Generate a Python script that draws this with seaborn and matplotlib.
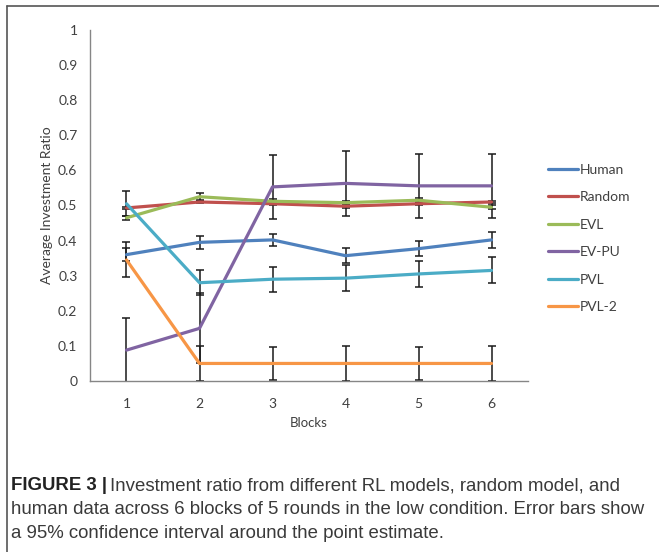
import numpy as np
import pandas as pd
import seaborn as sns
import matplotlib
matplotlib.use("Agg")
import matplotlib.pyplot as plt
from matplotlib.lines import Line2D

blocks = [1, 2, 3, 4, 5, 6]
models = ["Human", "Random", "EVL", "EV-PU", "PVL", "PVL-2"]
human = [0.360, 0.395, 0.402, 0.357, 0.377, 0.402]
human_err = [0.018, 0.019, 0.018, 0.021, 0.022, 0.022]
random_ = [0.493, 0.510, 0.505, 0.498, 0.505, 0.510]
random_err = [0.004, 0.004, 0.004, 0.004, 0.004, 0.004]
evl = [0.465, 0.525, 0.512, 0.508, 0.515, 0.495]
evl_err = [0.006, 0.010, 0.006, 0.006, 0.006, 0.006]
evpu = [0.088, 0.150, 0.553, 0.563, 0.556, 0.556]
evpu_err = [0.092, 0.100, 0.092, 0.093, 0.092, 0.092]
pvl = [0.505, 0.280, 0.290, 0.293, 0.305, 0.315]
pvl_err = [0.036, 0.036, 0.036, 0.037, 0.037, 0.037]
pvl2 = [0.345, 0.050, 0.050, 0.050, 0.050, 0.050]
pvl2_err = [0.050, 0.050, 0.048, 0.050, 0.048, 0.050]
yticks = [0, 0.1, 0.2, 0.3, 0.4, 0.5, 0.6, 0.7, 0.8, 0.9, 1]
ytick_labels = ["0", "0.1", "0.2", "0.3", "0.4", "0.5", "0.6", "0.7", "0.8", "0.9", "1"]
colors = ["#4F81BD", "#C0504D", "#9BBB59", "#8064A2", "#4BACC6", "#F79646"]
caption_bold = "FIGURE 3 |"
caption_lines = [
    "Investment ratio from different RL models, random model, and",
    "human data across 6 blocks of 5 rounds in the low condition. Error bars show",
    "a 95% confidence interval around the point estimate.",
]

values = [human, random_, evl, evpu, pvl, pvl2]
errors = [human_err, random_err, evl_err, evpu_err, pvl_err, pvl2_err]

rows = []
for m, v, e in zip(models, values, errors):
    for b, vi, ei in zip(blocks, v, e):
        rows.append({"block": b, "value": vi, "err": ei, "model": m})
df = pd.DataFrame(rows)

sns.set_style("white")
plt.rcParams["font.family"] = ["Lato", "DejaVu Sans"]

W, H = 659, 552
fig = plt.figure(figsize=(W / 100, H / 100), dpi=100)
ax = fig.add_axes([90 / W, 1 - 381 / H, 438 / W, 351 / H])

# error bars (behind lines)
for m in models:
    d = df[df.model == m]
    ax.errorbar(d.block, d.value, yerr=d.err, fmt="none", ecolor="#1a1a1a",
                elinewidth=1.1, capsize=3, capthick=1.1, zorder=2)

palette = dict(zip(models, colors))
sns.lineplot(data=df, x="block", y="value", hue="model", hue_order=models,
             palette=palette, linewidth=2.3, ax=ax, legend=False, zorder=3,
             estimator=None, sort=False)

ax.set_xlim(0.5, 6.5)
ax.set_ylim(0, 1)
ax.set_yticks(yticks)
ax.set_yticklabels(ytick_labels)
ax.set_xticks(blocks)
ax.set_xticklabels([str(b) for b in blocks])
ax.set_xticks(np.arange(0.5, 6.6, 1.0), minor=True)
ax.tick_params(axis="x", which="major", length=0, pad=12, labelsize=10, colors="#404040")
ax.tick_params(axis="x", which="minor", length=4, width=1, color="#868686", direction="out")
ax.tick_params(axis="y", which="major", length=4, width=1, color="#868686", direction="out",
               pad=5, labelsize=10, labelcolor="#404040")
for s in ["top", "right"]:
    ax.spines[s].set_visible(False)
for s in ["left", "bottom"]:
    ax.spines[s].set_color("#868686")
    ax.spines[s].set_linewidth(1)
ax.set_xlabel("Blocks", fontsize=9.5, color="#404040", labelpad=5)
ax.set_ylabel("Average Investment Ratio", fontsize=10, color="#404040", labelpad=4)
ax.patch.set_alpha(0)

# legend
handles = [Line2D([0], [0], color=c, lw=2.3) for c in colors]
fig.legend(handles, models, loc="upper left", bbox_to_anchor=(535 / W, 1 - 151 / H),
           frameon=False, fontsize=10, handlelength=2.2, handletextpad=0.15,
           labelspacing=1.12, labelcolor="#404040")

# frame lines of the figure panel
fig.add_artist(Line2D([7 / W, 1], [1 - 6 / H, 1 - 6 / H], color="#555555", lw=1.2))
fig.add_artist(Line2D([7 / W, 7 / W], [0, 1 - 6 / H], color="#555555", lw=1.2))

# caption
cap_font = ["Liberation Sans", "DejaVu Sans"]
cs = 13.45
ys = [486, 510, 533]
tb = fig.text(11 / W, 1 - ys[0] / H, caption_bold, fontsize=cs, fontweight="bold",
              family=cap_font, va="center", color="#222222")
fig.canvas.draw()
bb = tb.get_window_extent()
fig.text((bb.x1 + 3) / W, 1 - ys[0] / H, caption_lines[0], fontsize=cs,
         family=cap_font, va="center", color="#3a3a3a")
for y, line in zip(ys[1:], caption_lines[1:]):
    fig.text(11 / W, 1 - y / H, line, fontsize=cs, family=cap_font, va="center",
             color="#3a3a3a")

fig.savefig("out.png", dpi=100)
